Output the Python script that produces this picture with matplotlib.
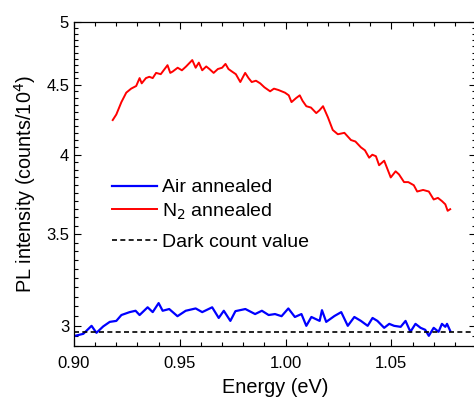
import matplotlib

matplotlib.use("Agg")
import matplotlib.pyplot as plt
from matplotlib.ticker import FixedLocator, MultipleLocator, NullFormatter

plt.rcParams["font.family"] = ["Liberation Sans", "DejaVu Sans"]

# N2 annealed spectrum (energy in eV, intensity in counts/1e4)
n2_energy = [0.9183, 0.9200, 0.9224, 0.9247, 0.9270, 0.9294, 0.9310, 0.9320, 0.9340,
             0.9356, 0.9372, 0.9388, 0.9410, 0.9442, 0.9455, 0.9466, 0.9490, 0.9510,
             0.9530, 0.9559, 0.9575, 0.9590, 0.9606, 0.9625, 0.9640, 0.9660, 0.9680,
             0.9700, 0.9716, 0.9730, 0.9747, 0.9765, 0.9786, 0.9809, 0.9825, 0.9840,
             0.9860, 0.9880, 0.9900, 0.9927, 0.9945, 0.9966, 0.9997, 1.0015, 1.0028,
             1.0050, 1.0067, 1.0080, 1.0098, 1.0120, 1.0145, 1.0160, 1.0177, 1.0200,
             1.0223, 1.0247, 1.0278, 1.0309, 1.0330, 1.0356, 1.0375, 1.0395, 1.0410,
             1.0427, 1.0442, 1.0466, 1.0480, 1.0497, 1.0520, 1.0536, 1.0560, 1.0580,
             1.0606, 1.0622, 1.0650, 1.0677, 1.0700, 1.0720, 1.0739, 1.0755, 1.0766,
             1.0778]
n2_intensity = [4.24, 4.28, 4.37, 4.44, 4.47, 4.49, 4.55, 4.51, 4.55,
                4.56, 4.55, 4.59, 4.58, 4.65, 4.59, 4.60, 4.63, 4.61,
                4.64, 4.69, 4.63, 4.67, 4.61, 4.64, 4.62, 4.59, 4.62,
                4.63, 4.66, 4.62, 4.60, 4.58, 4.52, 4.59, 4.55, 4.52,
                4.53, 4.51, 4.48, 4.45, 4.47, 4.46, 4.44, 4.42, 4.37,
                4.40, 4.42, 4.38, 4.34, 4.33, 4.29, 4.31, 4.34, 4.26,
                4.17, 4.14, 4.15, 4.10, 4.09, 4.05, 4.03, 3.98, 4.00,
                3.99, 3.93, 3.96, 3.91, 3.85, 3.89, 3.87, 3.82, 3.82,
                3.80, 3.76, 3.77, 3.76, 3.71, 3.72, 3.70, 3.68, 3.64,
                3.65]

# Air annealed spectrum
air_energy = [0.9005, 0.9044, 0.9083, 0.9106, 0.9138, 0.9169, 0.9200, 0.9224, 0.9263,
              0.9291, 0.9310, 0.9348, 0.9372, 0.9400, 0.9419, 0.9450, 0.9489, 0.9528,
              0.9575, 0.9606, 0.9653, 0.9684, 0.9708, 0.9739, 0.9763, 0.9810, 0.9856,
              0.9888, 0.9920, 0.9950, 0.9981, 1.0013, 1.0044, 1.0075, 1.0098, 1.0122,
              1.0161, 1.0172, 1.0192, 1.0231, 1.0263, 1.0294, 1.0325, 1.0356, 1.0388,
              1.0411, 1.0434, 1.0466, 1.0490, 1.0513, 1.0544, 1.0567, 1.0590, 1.0614,
              1.0638, 1.0660, 1.0677, 1.0700, 1.0723, 1.0739, 1.0755, 1.0763, 1.0778]
air_intensity = [2.95, 2.96, 3.00, 2.965, 2.997, 3.02, 3.025, 3.055, 3.07,
                 3.077, 3.055, 3.095, 3.07, 3.117, 3.077, 3.086, 3.049, 3.077,
                 3.089, 3.07, 3.095, 3.04, 3.077, 3.025, 3.075, 3.086, 3.06,
                 3.077, 3.055, 3.06, 3.049, 3.089, 3.045, 3.06, 3.00, 3.045,
                 3.025, 3.08, 3.02, 3.05, 3.07, 3.00, 3.045, 3.025, 3.00,
                 3.04, 3.025, 2.99, 3.01, 3.00, 2.995, 3.025, 2.97, 3.01,
                 2.99, 2.98, 2.95, 2.99, 2.97, 3.01, 2.995, 3.01, 2.975]

dark_count = 2.97
x_limits = [0.90, 1.09]

fig = plt.figure(figsize=(4.74, 4.01), dpi=100)
ax = fig.add_axes([74 / 474, 55 / 401, 402 / 474, 324 / 401])

l_air, = ax.plot(air_energy, air_intensity, color="#0000ff", lw=1.6)
l_n2, = ax.plot(n2_energy, n2_intensity, color="#ff0000", lw=1.4)
l_dark, = ax.plot(x_limits, [dark_count, dark_count], color="black", lw=1.2,
                  linestyle=(0, (3, 2)))

ax.set_yscale("log")
ax.set_xlim(*x_limits)
ax.set_ylim(2.9, 5.0)

ax.xaxis.set_major_locator(FixedLocator([0.90, 0.95, 1.00, 1.05]))
ax.set_xticklabels(["0.90", "0.95", "1.00", "1.05"])
ax.xaxis.set_minor_locator(MultipleLocator(0.01))

ax.yaxis.set_major_locator(FixedLocator([3.0, 3.5, 4.0, 4.5, 5.0]))
ax.set_yticklabels(["3", "3.5", "4", "4.5", "5"])
minor_y = [2.9 + 0.05 * i for i in range(43)]
ax.yaxis.set_minor_locator(FixedLocator(minor_y))
ax.yaxis.set_minor_formatter(NullFormatter())

ax.tick_params(which="both", direction="in", top=True, right=True,
               labelsize=12, colors="black", width=0.8)
ax.tick_params(which="major", length=5)
ax.tick_params(which="minor", length=3)
ax.tick_params(axis="x", pad=7)
for s in ax.spines.values():
    s.set_linewidth(0.9)

ax.set_xlabel("Energy (eV)", fontsize=14.3, labelpad=5)
ax.set_ylabel("PL intensity (counts/10$^4$)", fontsize=14.3, labelpad=6)

leg_style = dict(frameon=False, fontsize=14, handlelength=2.3,
                 handletextpad=0.28, borderaxespad=0, borderpad=0)
leg1 = ax.legend([l_air, l_n2], ["Air annealed", "N$_2$ annealed"],
                 loc="center left", bbox_to_anchor=(0.095, 0.45),
                 labelspacing=0.25, **leg_style)
ax.add_artist(leg1)
ax.legend([l_dark], ["Dark count value"], loc="center left",
          bbox_to_anchor=(0.095, 0.321), **leg_style)

fig.savefig("out.png", dpi=100)
